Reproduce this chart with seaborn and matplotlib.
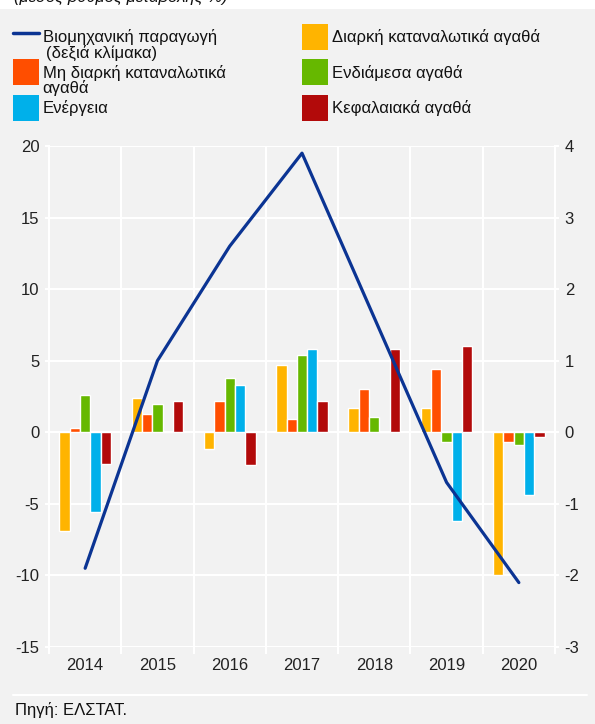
import numpy as np
import pandas as pd
import matplotlib
matplotlib.use("Agg")
import matplotlib.pyplot as plt
import seaborn as sns
from matplotlib.lines import Line2D
from matplotlib.patches import Patch, Rectangle

# ---------------- data ----------------
years = ["2014", "2015", "2016", "2017", "2018", "2019", "2020"]
durable = [-6.9, 2.4, -1.2, 4.7, 1.7, 1.7, -10.0]
nondurable = [0.3, 1.3, 2.2, 0.9, 3.0, 4.4, -0.7]
intermediate = [2.6, 2.0, 3.8, 5.4, 1.1, -0.7, -0.9]
energy = [-5.6, 0.0, 3.3, 5.8, 0.0, -6.2, -4.4]
capital = [-2.2, 2.2, -2.3, 2.2, 5.8, 6.0, -0.3]
industrial = [-1.9, 1.0, 2.6, 3.9, 1.6, -0.7, -2.1]

series_names = ["Διαρκή καταναλωτικά αγαθά", "Μη διαρκή καταναλωτικά αγαθά",
                "Ενδιάμεσα αγαθά", "Ενέργεια", "Κεφαλαιακά αγαθά"]
line_name = "Βιομηχανική παραγωγή"
left_ticks = [-15, -10, -5, 0, 5, 10, 15, 20]
right_ticks = [-3, -2, -1, 0, 1, 2, 3, 4]
title_text = "(μέσος ρυθμός μεταβολής %)"
source_text = "Πηγή: ΕΛΣΤΑΤ."

colors = ["#FFB400", "#FF4E00", "#66B800", "#00B0EA", "#B20A0A"]
line_color = "#0B3493"
bg = "#F2F2F2"

df = pd.DataFrame({
    "year": years * 5,
    "series": sum([[n] * len(years) for n in series_names], []),
    "value": durable + nondurable + intermediate + energy + capital,
})

# ---------------- style ----------------
sns.set_style("darkgrid", {"axes.facecolor": bg, "figure.facecolor": bg,
                           "grid.color": "white"})
plt.rcParams["font.family"] = ["Liberation Sans", "DejaVu Sans"]
plt.rcParams["axes.unicode_minus"] = False
FS = 12
txt_color = "#222222"

fig = plt.figure(figsize=(5.95, 7.24), dpi=100)
fig.patch.set_facecolor(bg)
ax = fig.add_axes([49 / 595, 77 / 724, 506 / 595, 501 / 724])

sns.barplot(data=df, x="year", y="value", hue="series", hue_order=series_names,
            order=years, palette=colors, width=0.714, dodge=True, saturation=1,
            legend=False, ax=ax, zorder=3, errorbar=None)

ax.set_xlim(-0.5, len(years) - 0.5)
ax.set_ylim(-15, 20)
ax.set_yticks(left_ticks)
ax.set_yticklabels([str(t) for t in left_ticks])
ax.set_xticks(np.arange(len(years)))
ax.set_xticklabels(years)
ax.set_xticks(np.arange(len(years) + 1) - 0.5, minor=True)
ax.set_xlabel("")
ax.set_ylabel("")
ax.grid(False)
ax.yaxis.grid(True, color="white", lw=1.5, zorder=1)
ax.xaxis.grid(True, which="minor", color="white", lw=1.5, zorder=1)
ax.set_axisbelow(True)
ax.tick_params(axis="x", which="major", length=0, pad=8, labelsize=FS, labelcolor=txt_color)
ax.tick_params(axis="x", which="minor", length=5, width=1.5, color="white", bottom=True)
ax.tick_params(axis="y", length=3, width=1.5, color="white", pad=4, labelsize=FS,
               labelcolor=txt_color, left=True)
for s in ["top", "bottom"]:
    ax.spines[s].set_visible(False)
for s in ["left", "right"]:
    ax.spines[s].set_visible(True)
    ax.spines[s].set_color("white")
    ax.spines[s].set_linewidth(1.5)

ax2 = ax.twinx()
sns.lineplot(x=np.arange(len(years)), y=industrial, ax=ax2, color=line_color,
             lw=2.3, zorder=5)
ax2.set_ylim(-3, 4)
ax2.set_yticks(right_ticks)
ax2.set_yticklabels([str(t) for t in right_ticks])
ax2.grid(False)
ax2.patch.set_visible(False)
ax2.tick_params(axis="y", length=3, width=1.5, color="white", pad=4, labelsize=FS,
                labelcolor=txt_color, right=True)
for s in ax2.spines.values():
    s.set_visible(False)
ax2.set_ylabel("")
ax.set_xlim(-0.5, len(years) - 0.5)

# ---------------- legend ----------------
h_line = Line2D([], [], color=line_color, lw=2.5)
h_patches = [Patch(facecolor=c, edgecolor="none") for c in colors]
leg_kw = dict(loc="upper left", frameon=False, borderpad=0, borderaxespad=0,
              handlelength=1.54, handleheight=2.02, handletextpad=0.24,
              labelspacing=0.57, fontsize=FS, labelcolor="#111111")
fig.legend(handles=[h_line, h_patches[1], h_patches[3]],
           labels=[line_name, "Μη διαρκή καταναλωτικά", series_names[3]],
           bbox_to_anchor=(13 / 595, 1 - 24 / 724), **leg_kw)
fig.legend(handles=[h_patches[0], h_patches[2], h_patches[4]],
           labels=[series_names[0], series_names[2], series_names[4]],
           bbox_to_anchor=(302 / 595, 1 - 24 / 724), **leg_kw)
fig.text(46 / 595, 1 - 58 / 724, "(δεξιά κλίμακα)", fontsize=FS, va="baseline",
         color="#111111")
fig.text(42 / 595, 1 - 93 / 724, "αγαθά", fontsize=FS, va="baseline", color="#111111")

# ---------------- decorations ----------------
fig.add_artist(Rectangle((0, 1 - 9 / 724), 1, 9 / 724, transform=fig.transFigure,
                         facecolor="white", edgecolor="none", zorder=0))
fig.text(14 / 595, 1 - 2 / 724, title_text, fontsize=FS, style="italic",
         va="baseline", color="#111111")
fig.add_artist(Line2D([13 / 595, 587 / 595], [1 - 695 / 724] * 2, color="white",
                      lw=1.5, transform=fig.transFigure))
fig.text(15 / 595, 1 - 715 / 724, source_text, fontsize=FS, va="baseline",
         color="#111111")

fig.savefig("out.png", dpi=100, facecolor=bg)
